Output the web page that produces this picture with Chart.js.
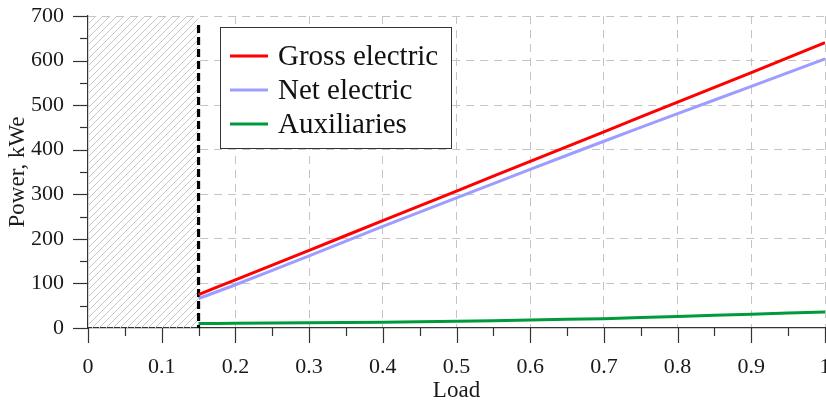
<!DOCTYPE html>
<html>
<head>
<meta charset="utf-8">
<script src="https://cdn.jsdelivr.net/npm/chart.js@4.4.1/dist/chart.umd.min.js"></script>
<style>
  html, body { margin: 0; padding: 0; background: #fff; }
  #wrap { width: 826px; height: 402px; }
</style>
</head>
<body>
<div id="wrap"><canvas id="powerChart"></canvas></div>
<script>
// Values
const load = [0.15, 0.2, 0.3, 0.4, 0.5, 0.6, 0.7, 0.8, 0.9, 1.0];
const grossElectric = [75, 108, 174, 241, 307, 374, 440, 507, 573, 640];
const netElectric = [66, 97, 162, 228, 292, 356, 419, 481, 542, 604];
const auxiliaries = [10, 10.5, 11.5, 13, 15, 18, 21, 26, 31, 36];
const minLoad = 0.15; // below this the plant does not run (hatched)

const seriesLabels = ['Gross electric', 'Net electric', 'Auxiliaries'];
const seriesColors = ['#ff0000', '#9d9dff', '#009a3c'];

const serif = "'Liberation Serif', 'Times New Roman', serif";

function toPoints(values) {
    return load.map((x, i) => ({ x: x, y: values[i] }));
}

// hatched "no operation" zone plus the dashed limit line
const hatchPlugin = {
    id: 'hatch',
    beforeDatasetsDraw(chart) {
        const ctx = chart.ctx;
        const xs = chart.scales.x, ys = chart.scales.y;
        const x0 = xs.getPixelForValue(0) + 1;
        const x1 = xs.getPixelForValue(minLoad);
        const top = ys.getPixelForValue(ys.max);
        const bottom = ys.getPixelForValue(0);
        ctx.save();
        ctx.fillStyle = '#fff';
        ctx.fillRect(x0, top + 1, x1 - x0, bottom - top - 2);
        ctx.beginPath();
        ctx.rect(x0, top, x1 - x0, bottom - top);
        ctx.clip();
        ctx.strokeStyle = '#c6c6c6';
        ctx.lineWidth = 1;
        const h = bottom - top;
        for (let s = x0 - h; s < x1 + 10; s += 7) {
            ctx.beginPath();
            ctx.moveTo(s, bottom);
            ctx.lineTo(s + h, top);
            ctx.stroke();
        }
        ctx.restore();

        ctx.save();
        ctx.strokeStyle = '#000';
        ctx.lineWidth = 3.2;
        ctx.setLineDash([8, 4]);
        ctx.beginPath();
        ctx.moveTo(x1, top + 9);
        ctx.lineTo(x1, bottom);
        ctx.stroke();
        ctx.restore();
    }
};

// major and minor tick marks pointing outwards
const tickPlugin = {
    id: 'outerTicks',
    afterDraw(chart) {
        const ctx = chart.ctx;
        const xs = chart.scales.x, ys = chart.scales.y;
        const left = xs.left, bottom = ys.bottom;
        ctx.save();
        ctx.strokeStyle = '#333';
        ctx.lineWidth = 1.2;
        for (let i = 0; i <= 20; i++) {
            const px = Math.round(xs.getPixelForValue(i * 0.05)) + 0.5;
            const len = i % 2 === 0 ? 15 : 8;
            ctx.beginPath();
            ctx.moveTo(px, bottom);
            ctx.lineTo(px, bottom + len);
            ctx.stroke();
        }
        for (let i = 0; i <= 14; i++) {
            const py = Math.round(ys.getPixelForValue(i * 50)) + 0.5;
            const len = i % 2 === 0 ? 15 : 8;
            ctx.beginPath();
            ctx.moveTo(left, py);
            ctx.lineTo(left - len, py);
            ctx.stroke();
        }
        ctx.restore();
    }
};

// boxed legend inside the plot area
const boxLegendPlugin = {
    id: 'boxLegend',
    afterDatasetsDraw(chart) {
        const ctx = chart.ctx;
        const area = chart.chartArea;
        const bx = area.left + 132, by = area.top + 11, bw = 231, bh = 121;
        ctx.save();
        ctx.fillStyle = '#fff';
        ctx.fillRect(bx, by, bw, bh);
        ctx.strokeStyle = '#333';
        ctx.lineWidth = 1;
        ctx.strokeRect(bx + 0.5, by + 0.5, bw, bh);
        ctx.font = '29px ' + serif;
        ctx.textBaseline = 'middle';
        ctx.fillStyle = '#111';
        chart.data.datasets.forEach((ds, i) => {
            const y = by + 29 + i * 34;
            ctx.strokeStyle = ds.borderColor;
            ctx.lineWidth = 3;
            ctx.beginPath();
            ctx.moveTo(bx + 10, y);
            ctx.lineTo(bx + 48, y);
            ctx.stroke();
            ctx.fillText(ds.label, bx + 58, y + 1);
        });
        ctx.restore();
    }
};

const datasets = [grossElectric, netElectric, auxiliaries].map((vals, i) => ({
    label: seriesLabels[i],
    data: toPoints(vals),
    borderColor: seriesColors[i],
    backgroundColor: seriesColors[i],
    borderWidth: 3,
    pointRadius: 0,
    tension: 0.3,
    fill: false
}));

const powerConfig = {
    type: 'line',
    data: { datasets: datasets },
    options: {
        responsive: true,
        maintainAspectRatio: false,
        animation: false,
        layout: { padding: { top: 16, right: 1, left: 0, bottom: 0 } },
        plugins: {
            legend: { display: false },
            tooltip: { enabled: false }
        },
        scales: {
            x: {
                type: 'linear',
                min: 0,
                max: 1,
                afterFit(s) { s.height = 74; s.paddingLeft = 0; s.paddingRight = 0; },
                ticks: {
                    stepSize: 0.1,
                    padding: 26,
                    maxRotation: 0,
                    color: '#1a1a1a',
                    font: { family: serif, size: 22 },
                    callback: v => String(Number(v.toFixed(2)))
                },
                grid: {
                    drawTicks: false,
                    color: c => (c.tick && c.tick.value === 0) ? 'rgba(0,0,0,0)' : '#c4c4c4',
                    lineWidth: 1
                },
                border: { display: true, color: '#333', width: 1.2, dash: [8, 6] },
                title: {
                    display: true,
                    text: 'Load',
                    color: '#1a1a1a',
                    font: { family: serif, size: 23, lineHeight: 1 },
                    padding: { top: 0, bottom: 0 }
                }
            },
            y: {
                min: 0,
                max: 700,
                afterFit(s) { s.width = 88; s.paddingTop = 0; s.paddingBottom = 0; },
                ticks: {
                    stepSize: 100,
                    padding: 24,
                    color: '#1a1a1a',
                    font: { family: serif, size: 22 }
                },
                grid: {
                    drawTicks: false,
                    color: c => (c.tick && c.tick.value === 0) ? 'rgba(0,0,0,0)' : '#c4c4c4',
                    lineWidth: 1
                },
                border: { display: true, color: '#333', width: 1.2, dash: [8, 6] },
                title: {
                    display: true,
                    text: 'Power, kWe',
                    color: '#1a1a1a',
                    font: { family: serif, size: 23 },
                    padding: { top: 4, bottom: 0 }
                }
            }
        }
    },
    plugins: [hatchPlugin, tickPlugin, boxLegendPlugin]
};

const powerCtx = document.getElementById('powerChart').getContext('2d');
new Chart(powerCtx, powerConfig);
</script>
</body>
</html>
